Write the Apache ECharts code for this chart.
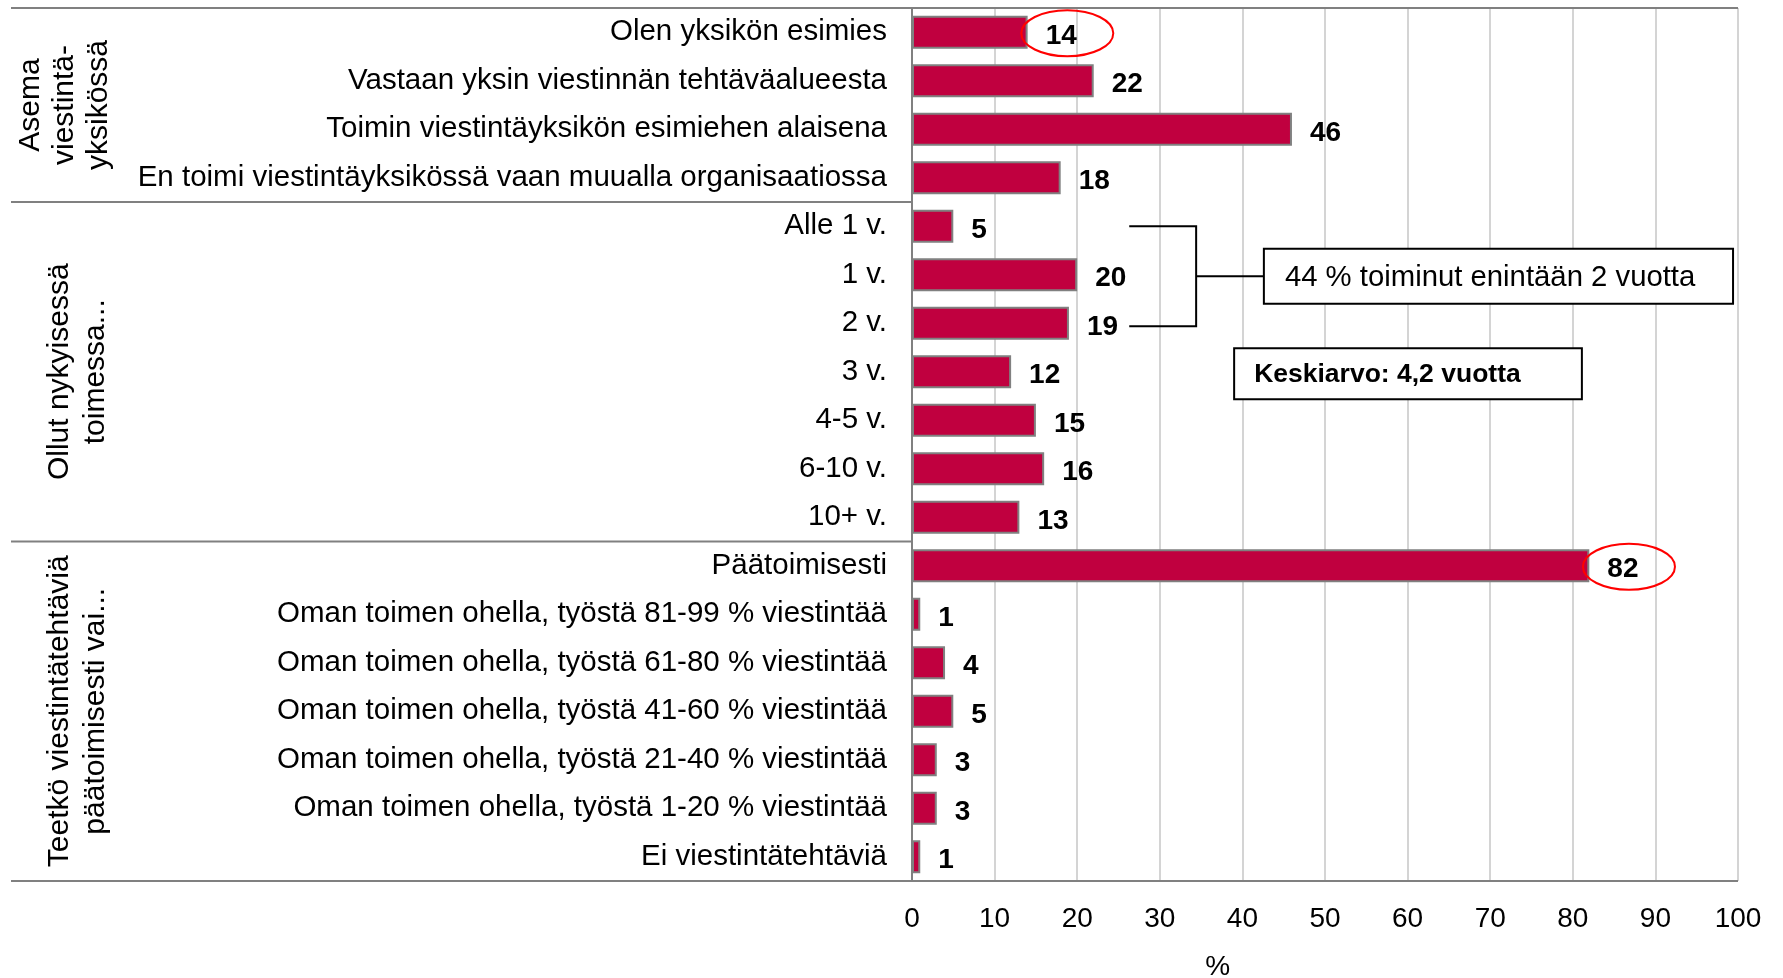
<!DOCTYPE html>
<html>
<head>
<meta charset="utf-8">
<script src="https://cdn.jsdelivr.net/npm/echarts@6/dist/echarts.min.js"></script>
<style>
  html, body { margin: 0; padding: 0; background: #fff; }
  #chart { width: 1783px; height: 978px; }
</style>
</head>
<body>
<div id="chart"></div>
<script>
// Kategoriat ylhäältä alas
const categories = [
  'Olen yksikön esimies',
  'Vastaan yksin viestinnän tehtäväalueesta',
  'Toimin viestintäyksikön esimiehen alaisena',
  'En toimi viestintäyksikössä vaan muualla organisaatiossa',
  'Alle 1 v.',
  '1 v.',
  '2 v.',
  '3 v.',
  '4-5 v.',
  '6-10 v.',
  '10+ v.',
  'Päätoimisesti',
  'Oman toimen ohella, työstä 81-99 % viestintää',
  'Oman toimen ohella, työstä 61-80 % viestintää',
  'Oman toimen ohella, työstä 41-60 % viestintää',
  'Oman toimen ohella, työstä 21-40 % viestintää',
  'Oman toimen ohella, työstä 1-20 % viestintää',
  'Ei viestintätehtäviä'
];
const values = [14, 22, 46, 18, 5, 20, 19, 12, 15, 16, 13, 82, 1, 4, 5, 3, 3, 1];

// Ryhmät: otsikko, ensimmäinen ja viimeinen rivi
const groupTitles = ['Asema\nviestintä-\nyksikössä', 'Ollut nykyisessä\ntoimessa...', 'Teetkö viestintätehtäviä\npäätoimisesti vai...'];
const groupStarts = [0, 4, 11];
const groupEnds = [3, 10, 17];

const xTicks = [0, 10, 20, 30, 40, 50, 60, 70, 80, 90, 100];
const circled = [0, 11];
const bracketRows = [4, 6];
const noteText = '44 % toiminut enintään 2 vuotta';
const meanText = 'Keskiarvo: 4,2 vuotta';

const FONT = '"Liberation Sans", Arial, sans-serif';
const BAR = '#c0003f';

const dom = document.getElementById('chart');
const chart = echarts.init(dom, null, { renderer: 'canvas' });

chart.setOption({
  animation: false,
  textStyle: { fontFamily: FONT },
  grid: { left: 912, right: 45, top: 8, bottom: 97, outerBoundsMode: 'none', containLabel: false },
  xAxis: {
    type: 'value',
    min: xTicks[0],
    max: xTicks[xTicks.length - 1],
    interval: 10,
    axisLine: { show: false },
    axisTick: { show: false },
    axisLabel: { fontSize: 28, color: '#000', margin: 24, fontFamily: FONT },
    splitLine: { lineStyle: { color: '#c6c6c6', width: 1.5 } }
  },
  yAxis: {
    type: 'category',
    data: categories,
    inverse: true,
    axisLine: { lineStyle: { color: '#808080', width: 2 } },
    axisTick: { show: false },
    axisLabel: { fontSize: 29.5, color: '#000', margin: 25, padding: [4, 0, 0, 0], fontFamily: FONT }
  },
  series: [{
    type: 'bar',
    data: values,
    barCategoryGap: '32%',
    itemStyle: { color: BAR, borderColor: '#808080', borderWidth: 2 },
    label: {
      show: true,
      position: 'right',
      distance: 18,
      offset: [0, 4],
      fontSize: 28,
      fontWeight: 'bold',
      color: '#000',
      fontFamily: FONT
    }
  }]
});

function px(x, row) {
  return chart.convertToPixel({ gridIndex: 0 }, [x, row]);
}

function buildGraphics() {
  const g = [];
  const lineStyle = { stroke: '#808080', lineWidth: 2 };
  const rowH = px(0, 1)[1] - px(0, 0)[1];
  const top = px(0, 0)[1] - rowH / 2;
  const x0 = px(0, 0)[0];
  const x100 = px(100, 0)[0];
  const bottom = top + rowH * categories.length;

  // Ylä- ja alareuna koko leveydeltä
  g.push({ type: 'line', shape: { x1: 11, y1: top, x2: x100, y2: top }, style: lineStyle, z: 10 });
  g.push({ type: 'line', shape: { x1: 11, y1: bottom, x2: x100, y2: bottom }, style: lineStyle, z: 10 });

  // Akselin nimi
  g.push({ type: 'text', x: px(37, 0)[0], y: bottom + 86, style: { text: '%', fontSize: 28, fontFamily: FONT, fill: '#000', align: 'center', verticalAlign: 'middle' } });

  // Ryhmien erottimet ja otsikot
  groupTitles.forEach((title, i) => {
    const gTop = top + groupStarts[i] * rowH;
    const gBot = top + (groupEnds[i] + 1) * rowH;
    if (i > 0) {
      g.push({ type: 'line', shape: { x1: 11, y1: gTop, x2: x0, y2: gTop }, style: lineStyle, z: 10 });
    }
    const lines = title.split('\n').length;
    g.push({
      type: 'text',
      x: lines === 3 ? 65 : 78,
      y: (gTop + gBot) / 2,
      rotation: Math.PI / 2,
      style: {
        text: title,
        fontSize: 30,
        fontFamily: FONT,
        fill: '#000',
        align: 'center',
        verticalAlign: 'middle',
        lineHeight: lines === 3 ? 34 : 36
      }
    });
  });

  // Punaiset ellipsit
  circled.forEach(row => {
    const c = px(values[row] + 4.8, row);
    g.push({
      type: 'ellipse',
      shape: { cx: c[0], cy: c[1] + 1, rx: 46, ry: 23 },
      style: { fill: 'none', stroke: '#ff0000', lineWidth: 2 },
      z: 20
    });
  });

  // Hakasulje
  const a = px(26.3, bracketRows[0]);
  const b = px(26.3, bracketRows[1]);
  const xv = px(34.4, 0)[0];
  const xBox = px(42.6, 0)[0];
  const yMid = (a[1] + b[1] + 3) / 2;
  const bracketStyle = { stroke: '#000', lineWidth: 2 };
  g.push({ type: 'polyline', shape: { points: [[a[0], a[1]], [xv, a[1]], [xv, b[1] + 3], [b[0], b[1] + 3]] }, style: { fill: 'none', ...bracketStyle }, z: 20 });
  g.push({ type: 'line', shape: { x1: xv, y1: yMid, x2: xBox, y2: yMid }, style: bracketStyle, z: 20 });

  const boxR = px(99.4, 0)[0];
  g.push({ type: 'rect', shape: { x: xBox, y: yMid - 27.5, width: boxR - xBox, height: 55 }, style: { fill: '#fff', stroke: '#000', lineWidth: 2 }, z: 20 });
  g.push({ type: 'text', x: xBox + 21, y: yMid + 2, style: { text: noteText, fontSize: 29.3, fontFamily: FONT, fill: '#000', verticalAlign: 'middle' }, z: 21 });

  // Keskiarvo
  const kL = px(39, 0)[0];
  const kR = px(81.1, 0)[0];
  const kY = top + 7.54 * rowH;
  g.push({ type: 'rect', shape: { x: kL, y: kY - 25.5, width: kR - kL, height: 51 }, style: { fill: '#fff', stroke: '#000', lineWidth: 2 }, z: 20 });
  g.push({ type: 'text', x: kL + 20, y: kY + 1, style: { text: meanText, fontSize: 26.5, fontWeight: 'bold', fontFamily: FONT, fill: '#000', verticalAlign: 'middle' }, z: 21 });

  chart.setOption({ graphic: { elements: g } });
}

buildGraphics();
window.addEventListener('resize', () => chart && chart.resize());
</script>
</body>
</html>
